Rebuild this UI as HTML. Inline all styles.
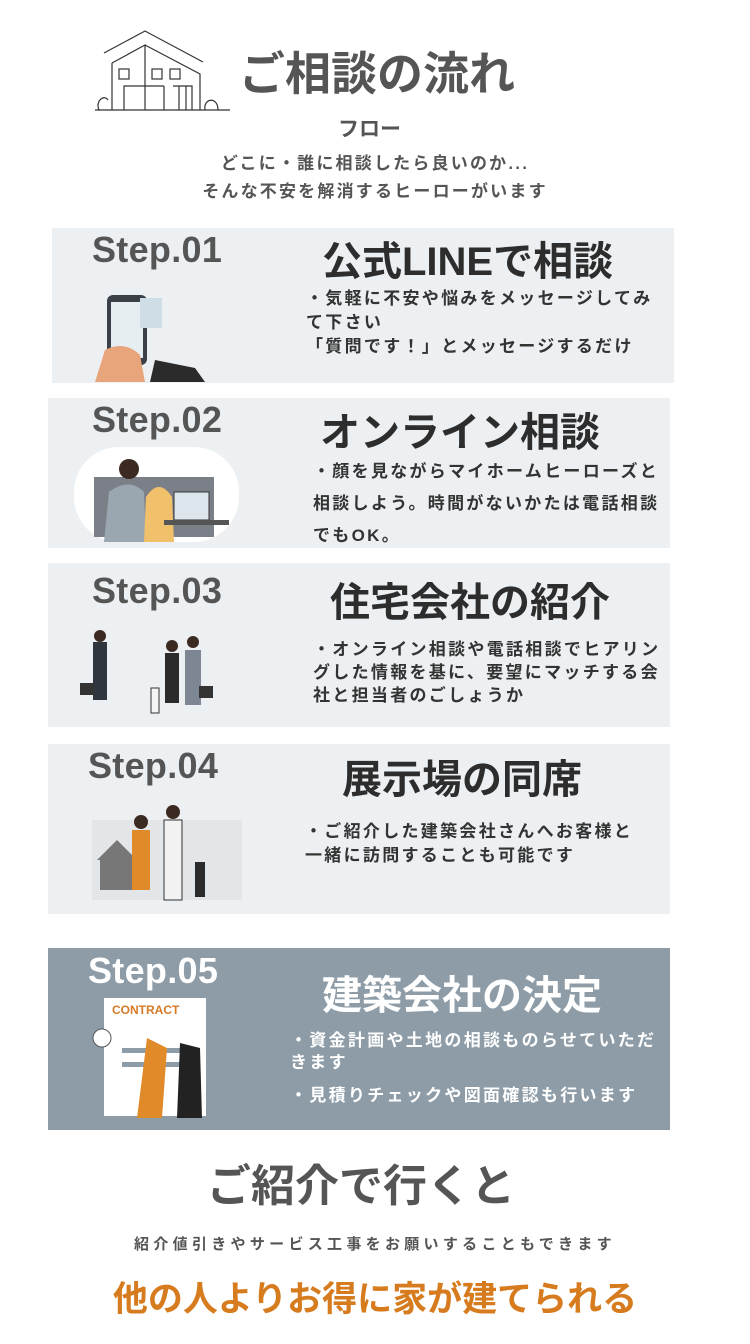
<!DOCTYPE html>
<html><head><meta charset="utf-8"><style>
*{margin:0;padding:0;box-sizing:border-box}
body{width:750px;height:1344px;background:#fff;position:relative;overflow:hidden;font-family:"Liberation Sans","Noto Sans CJK JP",sans-serif;font-weight:bold}
.a{position:absolute;white-space:nowrap}
.p{position:absolute;background:#ecf0f2}
.st{position:absolute;font-size:36px;color:#555;letter-spacing:0.3px}
.tt{position:absolute;font-size:40px;color:#2d2d2d;white-space:nowrap}
.bd{position:absolute;font-size:17px;letter-spacing:2.3px;color:#333;line-height:24px;white-space:nowrap}
</style></head><body>
<svg class="a" style="left:92px;top:26px" width="140" height="90" viewBox="0 0 140 90" fill="none" stroke="#333" stroke-width="1.2">
<path d="M12 27 L53 5 L111 36"/><path d="M20 37 L53 19 L53 84"/><path d="M53 19 L108 48 L108 84"/>
<path d="M20 37 L20 84"/><rect x="27" y="43" width="10" height="10"/><rect x="60" y="43" width="10" height="10"/><rect x="78" y="43" width="10" height="10"/>
<path d="M32 84 L32 60 L72 60"/><path d="M72 60 L72 84 M81 60 L100 60 L100 84 M87 60 L87 84 M94 60 L94 84"/>
<path d="M3 84 L138 84"/><path d="M7 84 C3 75 12 68 16 74 M113 84 C111 72 126 70 126 84"/>
</svg>
<div class="a" style="left:239px;top:38px;font-size:46px;color:#555">ご相談の流れ</div>
<div class="a" style="left:338px;top:113px;font-size:21px;color:#555">フロー</div>
<div class="a" style="left:0;width:750px;text-align:center;top:150px;font-size:17px;color:#555;line-height:28px;letter-spacing:2.2px">どこに・誰に相談したら良いのか...<br>そんな不安を解消するヒーローがいます</div>

<div class="p" style="left:52px;top:228px;width:622px;height:155px"></div>
<div class="st" style="left:92px;top:229px">Step.01</div>
<div class="tt" style="left:322px;top:229px">公式LINEで相談</div>
<div class="bd" style="left:306px;top:287px">・気軽に不安や悩みをメッセージしてみ<br>て下さい<br>「質問です！」とメッセージするだけ</div>
<svg class="a" style="left:95px;top:290px" width="110" height="92"><rect x="12" y="5" width="40" height="70" rx="6" fill="#3a3f48"/><rect x="16" y="12" width="32" height="56" fill="#e6eef2"/><rect x="45" y="8" width="22" height="30" fill="#cfdde6"/><path d="M0 92 L10 60 Q30 50 45 65 L50 92Z" fill="#e8a47a"/><path d="M55 92 L60 70 L100 78 L110 92Z" fill="#2b2b2b"/></svg>

<div class="p" style="left:48px;top:398px;width:622px;height:150px"></div>
<div class="st" style="left:92px;top:399px">Step.02</div>
<div class="tt" style="left:320px;top:400px">オンライン相談</div>
<div class="bd" style="left:313px;top:456px;line-height:32px">・顔を見ながらマイホームヒーローズと<br>相談しよう。時間がないかたは電話相談<br>でもOK。</div>
<svg class="a" style="left:74px;top:447px" width="165" height="95"><rect x="0" y="0" width="165" height="95" rx="45" fill="#fff"/><rect x="20" y="30" width="120" height="60" fill="#7b8088"/><circle cx="55" cy="22" r="10" fill="#3b2a22"/><path d="M30 95 L35 45 Q55 30 70 45 L72 95Z" fill="#9aa6b0"/><path d="M70 95 L72 50 Q85 30 98 50 L100 95Z" fill="#f0c06a"/><rect x="100" y="45" width="35" height="28" fill="#dde6ec" stroke="#333"/><rect x="90" y="73" width="65" height="5" fill="#555"/></svg>

<div class="p" style="left:48px;top:563px;width:622px;height:164px"></div>
<div class="st" style="left:92px;top:570px">Step.03</div>
<div class="tt" style="left:330px;top:570px">住宅会社の紹介</div>
<div class="bd" style="left:313px;top:638px;line-height:23px">・オンライン相談や電話相談でヒアリン<br>グした情報を基に、要望にマッチする会<br>社と担当者のごしょうか</div>
<svg class="a" style="left:75px;top:628px" width="150" height="96"><rect x="18" y="14" width="14" height="58" fill="#2f3640"/><circle cx="25" cy="8" r="6" fill="#3b2a22"/><rect x="90" y="25" width="14" height="50" fill="#2b2b2b"/><circle cx="97" cy="18" r="6" fill="#3b2a22"/><rect x="110" y="22" width="16" height="55" fill="#7d8794"/><circle cx="118" cy="14" r="6" fill="#3b2a22"/><rect x="76" y="60" width="8" height="25" fill="#f5f5f5" stroke="#333"/><rect x="5" y="55" width="14" height="12" fill="#333"/><rect x="124" y="58" width="14" height="12" fill="#333"/></svg>

<div class="p" style="left:48px;top:744px;width:622px;height:170px"></div>
<div class="st" style="left:88px;top:745px">Step.04</div>
<div class="tt" style="left:342px;top:747px">展示場の同席</div>
<div class="bd" style="left:305px;top:820px">・ご紹介した建築会社さんへお客様と<br>一緒に訪問することも可能です</div>
<svg class="a" style="left:92px;top:800px" width="150" height="110"><rect x="0" y="20" width="150" height="80" fill="#e3e6e8"/><path d="M5 60 L25 40 L45 60Z M8 60 L42 60 L42 90 L8 90Z" fill="#777"/><rect x="40" y="30" width="18" height="60" fill="#e08a2a"/><circle cx="49" cy="22" r="7" fill="#3b2a22"/><rect x="72" y="20" width="18" height="80" fill="#f2f2f2" stroke="#333"/><circle cx="81" cy="12" r="7" fill="#3b2a22"/><rect x="103" y="62" width="10" height="35" fill="#2b2b2b"/></svg>

<div class="p" style="left:48px;top:948px;width:622px;height:182px;background:#8d9ca7"></div>
<div class="st" style="left:88px;top:950px;color:#fff">Step.05</div>
<div class="tt" style="left:322px;top:963px;color:#fff">建築会社の決定</div>
<div class="bd" style="left:290px;top:1030px;color:#fff;line-height:22px">・資金計画や土地の相談ものらせていただ<br>きます</div>
<div class="bd" style="left:290px;top:1084px;color:#fff">・見積りチェックや図面確認も行います</div>
<svg class="a" style="left:92px;top:998px" width="130" height="124"><rect x="12" y="0" width="102" height="118" fill="#fff"/><text x="20" y="16" font-size="12" fill="#d77a25" font-family="Liberation Sans" font-weight="bold">CONTRACT</text><rect x="30" y="50" width="70" height="5" fill="#8d9ca7"/><rect x="30" y="64" width="70" height="5" fill="#8d9ca7"/><path d="M45 120 L55 40 L75 50 L70 120Z" fill="#e08a2a"/><path d="M85 120 L88 45 L108 50 L110 120Z" fill="#222"/><circle cx="10" cy="40" r="9" fill="#fff" stroke="#555"/></svg>

<div class="a" style="left:0;width:722px;text-align:center;top:1150px;font-size:44px;color:#555">ご紹介で行くと</div>
<div class="a" style="left:0;width:750px;text-align:center;top:1233px;font-size:15px;color:#555;letter-spacing:4.3px">紹介値引きやサービス工事をお願いすることもできます</div>
<div class="a" style="left:0;width:750px;text-align:center;top:1271px;font-size:35px;color:#d67b1e">他の人よりお得に家が建てられる</div>
</body></html>
